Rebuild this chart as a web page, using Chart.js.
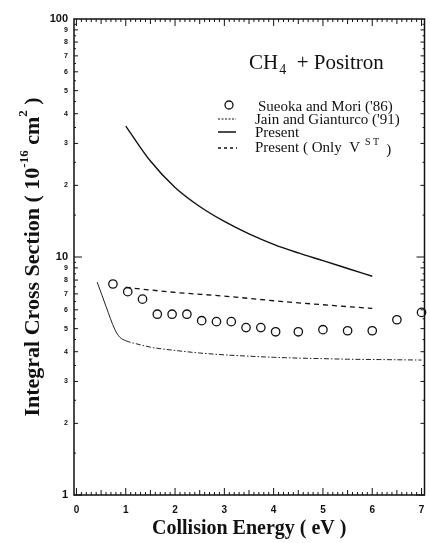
<!DOCTYPE html>
<html>
<head>
<meta charset="utf-8">
<script src="https://cdn.jsdelivr.net/npm/chart.js@4.4.1/dist/chart.umd.min.js"></script>
<style>
  html, body { margin: 0; padding: 0; background: #fff; }
  #wrap { width: 430px; height: 543px; position: relative; }
</style>
</head>
<body>
<div id="wrap"><canvas id="chart"></canvas></div>
<script>
// Sueoka and Mori ('86) - open circles
const sueokaEnergy = [0.74, 1.04, 1.34, 1.64, 1.94, 2.24, 2.54, 2.84, 3.14, 3.44, 3.74, 4.04, 4.5, 5.0, 5.5, 6.0, 6.5, 7.0];
const sueokaCS = [7.7, 7.15, 6.65, 5.75, 5.75, 5.75, 5.4, 5.35, 5.35, 5.05, 5.05, 4.85, 4.85, 4.95, 4.9, 4.9, 5.45, 5.85];

// Jain and Gianturco ('91)
const jainEnergy = [0.42, 0.6, 0.78, 0.88, 1.0, 1.25, 1.5, 2.0, 2.5, 3.0, 3.5, 4.0, 4.5, 5.0, 5.5, 6.0, 6.5, 7.0];
const jainCS = [7.85, 6.2, 4.95, 4.6, 4.45, 4.3, 4.18, 4.05, 3.95, 3.88, 3.83, 3.79, 3.76, 3.74, 3.72, 3.71, 3.7, 3.69];

// Present
const presentEnergy = [1.0, 1.5, 2.0, 2.5, 3.0, 3.5, 4.0, 4.5, 5.0, 5.5, 6.0];
const presentCS = [35.5, 25.3, 19.6, 16.3, 14.1, 12.5, 11.3, 10.4, 9.65, 8.95, 8.3];

// Present (only V^ST)
const staticEnergy = [1.0, 2.0, 3.0, 4.0, 5.0, 6.0];
const staticCS = [7.45, 7.1, 6.85, 6.55, 6.3, 6.08];

const xTickValues = [0, 1, 2, 3, 4, 5, 6, 7];
const yTickValues = [1, 2, 3, 4, 5, 6, 7, 8, 9, 10, 20, 30, 40, 50, 60, 70, 80, 90, 100];
const yTickLabels = ['1', '2', '3', '4', '5', '6', '7', '8', '9', '10', '2', '3', '4', '5', '6', '7', '8', '9', '100'];

const toPoints = (xs, ys) => xs.map((x, i) => ({ x: x, y: ys[i] }));

const INK = '#111';
const SERIF = '"Liberation Serif", "DejaVu Serif", serif';
const SANS = '"Liberation Sans", Arial, sans-serif';

// frame, inward ticks, in-plot title, legend and y title
const decorations = {
  id: 'decorations',
  afterDatasetsDraw(chart) {
    const { ctx, chartArea: a, scales: { x, y } } = chart;
    ctx.save();
    ctx.strokeStyle = INK;
    ctx.lineWidth = 1.5;
    ctx.strokeRect(a.left, a.top, a.right - a.left, a.bottom - a.top);

    ctx.lineWidth = 1;
    ctx.beginPath();
    for (let i = 0; i <= 70; i++) {
      const px = x.getPixelForValue(i / 10);
      const len = i % 10 === 0 ? 7 : (i % 5 === 0 ? 5 : 3);
      ctx.moveTo(px, a.bottom); ctx.lineTo(px, a.bottom - len);
      ctx.moveTo(px, a.top); ctx.lineTo(px, a.top + len);
    }
    [1, 10].forEach(d => {
      for (let m = 1; m < 10; m += 0.5) {
        const py = y.getPixelForValue(m * d);
        const len = m === 1 ? 8 : (Number.isInteger(m) ? 4 : 2);
        ctx.moveTo(a.left, py); ctx.lineTo(a.left + len, py);
        ctx.moveTo(a.right, py); ctx.lineTo(a.right - len, py);
      }
    });
    ctx.stroke();

    // CH4 + Positron
    ctx.fillStyle = INK;
    ctx.textBaseline = 'alphabetic';
    ctx.textAlign = 'left';
    let tx = 249;
    const ty = 69;
    ctx.font = '21px ' + SERIF;
    ctx.fillText('CH', tx, ty);
    tx += ctx.measureText('CH').width + 1;
    ctx.font = '14px ' + SERIF;
    ctx.fillText('4', tx, ty + 5);
    tx += ctx.measureText('4').width;
    ctx.font = '21px ' + SERIF;
    ctx.fillText('  + Positron', tx, ty);

    // legend
    ctx.textBaseline = 'middle';
    ctx.font = '15px ' + SERIF;
    ctx.lineWidth = 1.3;
    ctx.beginPath();
    ctx.arc(229, 105, 4, 0, Math.PI * 2);
    ctx.stroke();
    ctx.fillText("Sueoka and Mori ('86)", 258, 107);

    ctx.lineWidth = 1;
    ctx.setLineDash([2, 1.5]);
    ctx.beginPath(); ctx.moveTo(218, 119); ctx.lineTo(236, 119); ctx.stroke();
    ctx.fillText("Jain and Gianturco ('91)", 255, 120);

    ctx.setLineDash([]);
    ctx.lineWidth = 1.5;
    ctx.beginPath(); ctx.moveTo(218, 132); ctx.lineTo(236, 132); ctx.stroke();
    ctx.fillText('Present', 255, 133);

    ctx.lineWidth = 1.3;
    ctx.setLineDash([3, 3]);
    ctx.beginPath(); ctx.moveTo(218, 148); ctx.lineTo(237, 148); ctx.stroke();
    ctx.setLineDash([]);
    let lx = 255;
    ctx.fillText('Present ( Only  V', lx, 148);
    lx += ctx.measureText('Present ( Only  V').width + 5;
    ctx.font = '10px ' + SERIF;
    ctx.fillText('S T', lx, 142);
    lx += ctx.measureText('S T').width + 7;
    ctx.font = '15px ' + SERIF;
    ctx.fillText(')', lx, 150);

    // y axis title with superscripts
    const parts = [
      ['Integral Cross Section ( 10', 'bold 22px ', 0],
      ['-16', 'bold 13px ', -8],
      [' cm', 'bold 22px ', 0],
      ['2', 'bold 13px ', -9],
      [' )', 'bold 22px ', 0]
    ];
    let total = 0;
    parts.forEach(p => { ctx.font = p[1] + SERIF; total += ctx.measureText(p[0]).width; });
    ctx.translate(32, (a.top + a.bottom) / 2);
    ctx.rotate(-Math.PI / 2);
    let px = -total / 2;
    parts.forEach(p => {
      ctx.font = p[1] + SERIF;
      ctx.fillText(p[0], px, p[2] + 1);
      px += ctx.measureText(p[0]).width;
    });
    ctx.restore();
  }
};

new Chart(document.getElementById('chart'), {
  type: 'scatter',
  data: {
    datasets: [
      {
        label: "Sueoka and Mori ('86)",
        data: toPoints(sueokaEnergy, sueokaCS),
        showLine: false,
        pointStyle: 'circle',
        pointRadius: 4.2,
        borderColor: INK,
        borderWidth: 1.3,
        backgroundColor: 'rgba(0,0,0,0)',
        clip: false
      },
      {
        label: "Jain and Gianturco ('91)",
        data: toPoints(jainEnergy, jainCS),
        showLine: true,
        pointRadius: 0,
        borderColor: '#222',
        borderWidth: 1,
        cubicInterpolationMode: 'monotone',
        segment: {
          borderDash: (c) => (c.p0.parsed.x < 0.95 ? [] : [5, 2, 1.5, 2])
        }
      },
      {
        label: 'Present',
        data: toPoints(presentEnergy, presentCS),
        showLine: true,
        pointRadius: 0,
        borderColor: INK,
        borderWidth: 1.4,
        cubicInterpolationMode: 'monotone'
      },
      {
        label: 'Present ( Only V^ST )',
        data: toPoints(staticEnergy, staticCS),
        showLine: true,
        pointRadius: 0,
        borderColor: INK,
        borderWidth: 1.3,
        borderDash: [5, 4],
        cubicInterpolationMode: 'monotone'
      }
    ]
  },
  options: {
    responsive: true,
    maintainAspectRatio: false,
    animation: false,
    layout: { padding: { top: 19, right: 1, left: 0, bottom: 0 } },
    plugins: {
      legend: { display: false },
      tooltip: { enabled: false }
    },
    scales: {
      x: {
        type: 'linear',
        min: -0.05,
        max: 7.06,
        afterBuildTicks: (s) => { s.ticks = xTickValues.map(v => ({ value: v })); },
        afterFit: (s) => { s.height = 48; s.paddingLeft = 0; s.paddingRight = 0; },
        grid: { display: false, drawTicks: false },
        border: { display: false },
        ticks: {
          autoSkip: false,
          maxRotation: 0,
          padding: 9,
          color: INK,
          font: { family: SANS, size: 10, weight: 'bold' },
          callback: (v) => String(v)
        },
        title: {
          display: true,
          text: 'Collision Energy ( eV )',
          color: INK,
          font: { family: SERIF, size: 20, weight: 'bold' },
          padding: { top: 0, bottom: 2 }
        }
      },
      y: {
        type: 'logarithmic',
        min: 1,
        max: 100,
        afterBuildTicks: (s) => { s.ticks = yTickValues.map(v => ({ value: v })); },
        afterFit: (s) => { s.width = 74; s.paddingTop = 0; s.paddingBottom = 0; },
        grid: { display: false, drawTicks: false },
        border: { display: false },
        ticks: {
          autoSkip: false,
          padding: 6,
          color: INK,
          font: (c) => {
            const major = c.tick && [1, 10, 100].includes(c.tick.value);
            return { family: SANS, size: major ? 11 : 7, weight: 'bold' };
          },
          callback: (v, i) => yTickLabels[i]
        }
      }
    }
  },
  plugins: [decorations]
});
</script>
</body>
</html>
